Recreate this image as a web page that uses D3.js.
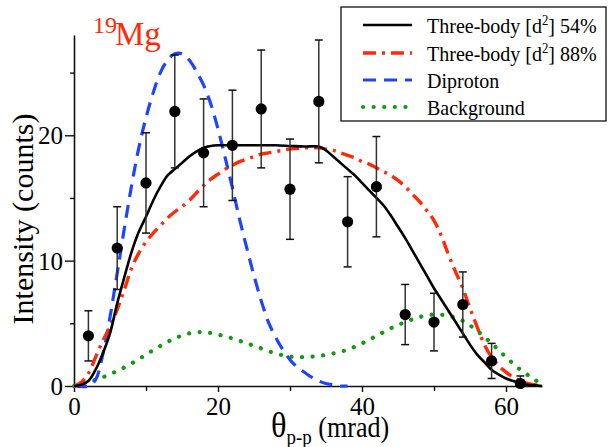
<!DOCTYPE html>
<html>
<head>
<meta charset="utf-8">
<script src="https://cdn.jsdelivr.net/npm/d3@7"></script>
<style>
  html, body { margin: 0; padding: 0; background: #fff; }
  svg { display: block; }
</style>
</head>
<body>
<svg id="chart" width="609" height="447"></svg>
<script>
// Measured proton-proton opening angles (mrad), counts and statistical errors
const angles = [2, 6, 10, 14, 18, 22, 26, 30, 34, 38, 42, 46, 50, 54, 58, 62];
const counts = [4.0, 11.0, 16.2, 21.9, 18.6, 19.2, 22.1, 15.7, 22.7, 13.1, 15.9, 5.7, 5.1, 6.5, 2.0, 0.2];
const errors = [2.0, 3.3, 4.0, 4.5, 4.3, 4.4, 4.7, 4.0, 4.9, 3.6, 4.0, 2.4, 2.3, 2.6, 1.4, 0.6];

// Three-body decay with 54% d^2 component
const threeBody54X = [0,1,2,3,4,5,6,7,8,9,10,11,12,13,14,15,16,17,18,19,20,22,24,26,28,30,32,34,35,36,37,38,39,40,41,42,43,44,45,46,47,48,49,50,51,52,53,54,55,56,57,58,59,60,61,62,63,64,65];
const threeBody54Y = [0,0.1,0.4,1.3,2.6,4.2,6.6,8.7,10.7,12.3,13.5,14.8,15.9,16.8,17.3,17.8,18.3,18.7,19.0,19.15,19.2,19.2,19.2,19.2,19.2,19.15,19.1,19.1,18.8,18.3,17.8,17.3,16.8,16.2,15.6,15.0,14.4,13.6,12.7,11.8,10.8,9.8,8.8,7.8,6.9,6.0,5.1,4.2,3.3,2.5,1.9,1.3,0.9,0.6,0.4,0.2,0.1,0.05,0];

// Three-body decay with 88% d^2 component
const threeBody88X = [0,1,2,3,4,5,6,7,8,9,10,11,12,13,14,15,16,17,18,19,20,21,22,23,24,25,26,27,28,29,30,31,32,33,34,35,36,37,38,39,40,41,42,43,44,45,46,47,48,49,50,51,52,53,54,55,56,57,58,59,60,61,62,63,64,65];
const threeBody88Y = [0,0.3,1.0,2.3,3.6,4.7,6.1,7.7,9.4,10.6,11.5,12.2,12.8,13.4,13.9,14.3,14.8,15.4,16.0,16.5,16.9,17.3,17.6,17.9,18.1,18.3,18.5,18.6,18.7,18.8,18.9,18.95,19.0,19.0,19.0,18.9,18.8,18.6,18.4,18.2,17.9,17.7,17.4,17.1,16.8,16.4,15.9,15.3,14.7,14.0,13.2,12.0,10.5,9.1,7.8,6.2,4.7,3.3,2.3,1.6,1.1,0.7,0.4,0.2,0.1,0];

// Diproton emission
const diprotonX = [0,2,3,4,5,6,7,8,9,10,11,12,13,14,15,16,17,18,19,20,21,22,23,24,25,26,27,28,29,30,31,32,33,34,35,36,37,38];
const diprotonY = [0,0,0.5,2.5,5.5,9.0,12.6,16.0,19.0,21.4,23.4,25.0,26.0,26.5,26.5,26.0,25.1,24.0,22.5,20.5,18.2,15.8,13.3,11.0,8.8,6.8,5.1,3.9,2.9,2.1,1.5,1.1,0.7,0.4,0.2,0.1,0,0];

// Background
const backgroundX = [0,2,4,6,8,10,12,14,16,18,20,22,24,26,28,30,32,34,36,38,40,42,44,46,48,50,52,54,56,58,60,62,64,65];
const backgroundY = [0,0.3,0.7,1.2,1.8,2.5,3.2,3.8,4.2,4.3,4.1,3.8,3.4,3.0,2.6,2.35,2.3,2.4,2.6,2.9,3.4,4.0,4.6,5.1,5.5,5.7,5.6,5.2,4.4,3.4,2.3,1.3,0.5,0.1];

const xMajorTicks = [0, 20, 40, 60];
const xMinorTicks = [10, 30, 50];
const yMajorTicks = [0, 10, 20];
const yMinorTicks = [5, 15, 25];

const seriesNames = ["Three-body [d2] 54%", "Three-body [d2] 88%", "Diproton", "Background"];

const SERIF = "'Liberation Serif', 'Times New Roman', 'DejaVu Serif', serif";
const svg = d3.select("#chart");

const x = d3.scaleLinear().domain([0, 65]).range([74, 542]);
const y = d3.scaleLinear().domain([0, 28]).range([386, 35]);

// Axes
const xAxis = svg.append("g").attr("transform", `translate(0,${y(0)})`)
  .call(d3.axisBottom(x).tickValues(xMajorTicks).tickSize(6).tickSizeOuter(0).tickPadding(5));
svg.append("g").attr("transform", `translate(0,${y(0)})`)
  .call(d3.axisBottom(x).tickValues(xMinorTicks).tickSize(5).tickSizeOuter(0).tickFormat(""))
  .select(".domain").remove();
const yAxis = svg.append("g").attr("transform", `translate(${x(0)},0)`)
  .call(d3.axisLeft(y).tickValues(yMajorTicks).tickSize(9).tickSizeOuter(0).tickPadding(2));
svg.append("g").attr("transform", `translate(${x(0)},0)`)
  .call(d3.axisLeft(y).tickValues(yMinorTicks).tickSize(4).tickSizeOuter(0).tickFormat(""))
  .select(".domain").remove();

svg.selectAll(".domain").attr("stroke", "#111").attr("stroke-width", 1.6);
svg.selectAll(".tick line").attr("stroke", "#111").attr("stroke-width", 1.4);
xAxis.selectAll(".tick text").attr("font-size", 25).attr("fill", "#000");
yAxis.selectAll(".tick text").attr("font-size", 25).attr("fill", "#000").attr("dy", "0.34em");

// Curves
const line = d3.line().x(d => x(d[0])).y(d => y(d[1])).curve(d3.curveCatmullRom.alpha(0.5));
const zip = (xs, ys) => xs.map((v, i) => [v, ys[i]]);

svg.append("path").datum(zip(backgroundX, backgroundY)).attr("d", line)
  .attr("fill", "none").attr("stroke", "#139a13").attr("stroke-width", 4.2)
  .attr("stroke-linecap", "round").attr("stroke-dasharray", "0.1 10.5");
svg.append("path").datum(zip(diprotonX, diprotonY)).attr("d", line)
  .attr("fill", "none").attr("stroke", "#1f44ff").attr("stroke-width", 3.2)
  .attr("stroke-dasharray", "13 8");
svg.append("path").datum(zip(threeBody88X, threeBody88Y)).attr("d", line)
  .attr("fill", "none").attr("stroke", "#ff2a0a").attr("stroke-width", 3.4)
  .attr("stroke-dasharray", "13 6 3 6");
svg.append("path").datum(zip(threeBody54X, threeBody54Y)).attr("d", line)
  .attr("fill", "none").attr("stroke", "#000").attr("stroke-width", 2.6);

// Data points with error bars
const pts = svg.append("g").selectAll("g").data(angles.map((a, i) => ({a, c: counts[i], e: errors[i]})))
  .join("g");
pts.append("line")
  .attr("x1", d => x(d.a)).attr("x2", d => x(d.a))
  .attr("y1", d => y(d.c + d.e)).attr("y2", d => y(Math.max(0, d.c - d.e)))
  .attr("stroke", "#333").attr("stroke-width", 1.5);
pts.append("line")
  .attr("x1", d => x(d.a) - 4).attr("x2", d => x(d.a) + 4)
  .attr("y1", d => y(d.c + d.e)).attr("y2", d => y(d.c + d.e))
  .attr("stroke", "#111").attr("stroke-width", 1.5);
pts.append("line")
  .attr("x1", d => x(d.a) - 4).attr("x2", d => x(d.a) + 4)
  .attr("y1", d => y(Math.max(0, d.c - d.e))).attr("y2", d => y(Math.max(0, d.c - d.e)))
  .attr("stroke", "#111").attr("stroke-width", 1.5);
pts.append("circle")
  .attr("cx", d => x(d.a)).attr("cy", d => y(d.c)).attr("r", 5.6)
  .attr("fill", "#000");

// Axis titles
svg.append("text")
  .attr("transform", "translate(33,219) rotate(-90)")
  .attr("text-anchor", "middle").attr("font-size", 30).attr("fill", "#000")
  .text("Intensity (counts)");

const xt = svg.append("text").attr("transform", "translate(271,437) scale(0.9,1)").attr("fill", "#000");
xt.append("tspan").attr("font-size", 36).text("θ");
xt.append("tspan").attr("font-size", 21).attr("dy", 7).text("p-p");
xt.append("tspan").attr("font-size", 29).attr("dy", -7).text(" (mrad)");

// Nucleus label
svg.append("text").attr("x", 93).attr("y", 33).attr("font-size", 24)
  .attr("fill", "#ff2a0a").text("19");
svg.append("text").attr("x", 115).attr("y", 45).attr("font-size", 33)
  .attr("fill", "#ff2a0a").text("Mg");

// Legend
const legend = svg.append("g");
legend.append("rect").attr("x", 341).attr("y", 7).attr("width", 265).attr("height", 114)
  .attr("fill", "#fff").attr("stroke", "#111").attr("stroke-width", 1.3);
const rowsY = [25, 53, 80, 107];
const styles = [
  {stroke: "#000", width: 2.6, dash: null, cap: "butt"},
  {stroke: "#ff2a0a", width: 3.4, dash: "13 6 3 6", cap: "butt"},
  {stroke: "#1f44ff", width: 3.2, dash: "13 8", cap: "butt"},
  {stroke: "#139a13", width: 4.2, dash: "0.1 10.5", cap: "round"}
];
seriesNames.forEach((name, i) => {
  const st = styles[i];
  legend.append("line").attr("x1", 363).attr("x2", 412).attr("y1", rowsY[i]).attr("y2", rowsY[i])
    .attr("stroke", st.stroke).attr("stroke-width", st.width)
    .attr("stroke-dasharray", st.dash).attr("stroke-linecap", st.cap);
  const t = legend.append("text")
    .attr("transform", `translate(427,${rowsY[i] + 8}) scale(0.91,1)`)
    .attr("font-size", 22).attr("fill", "#000");
  const parts = name.split("d2");
  if (parts.length === 2) {
    t.append("tspan").text(parts[0] + "d");
    t.append("tspan").attr("font-size", 14).attr("dy", -8).text("2");
    t.append("tspan").attr("dy", 8).text(parts[1]);
  } else {
    t.text(name);
  }
});

// Serif face throughout, overriding the axis defaults
svg.selectAll("g").attr("font-family", null);
svg.selectAll("text").style("font-family", SERIF);
</script>
</body>
</html>
